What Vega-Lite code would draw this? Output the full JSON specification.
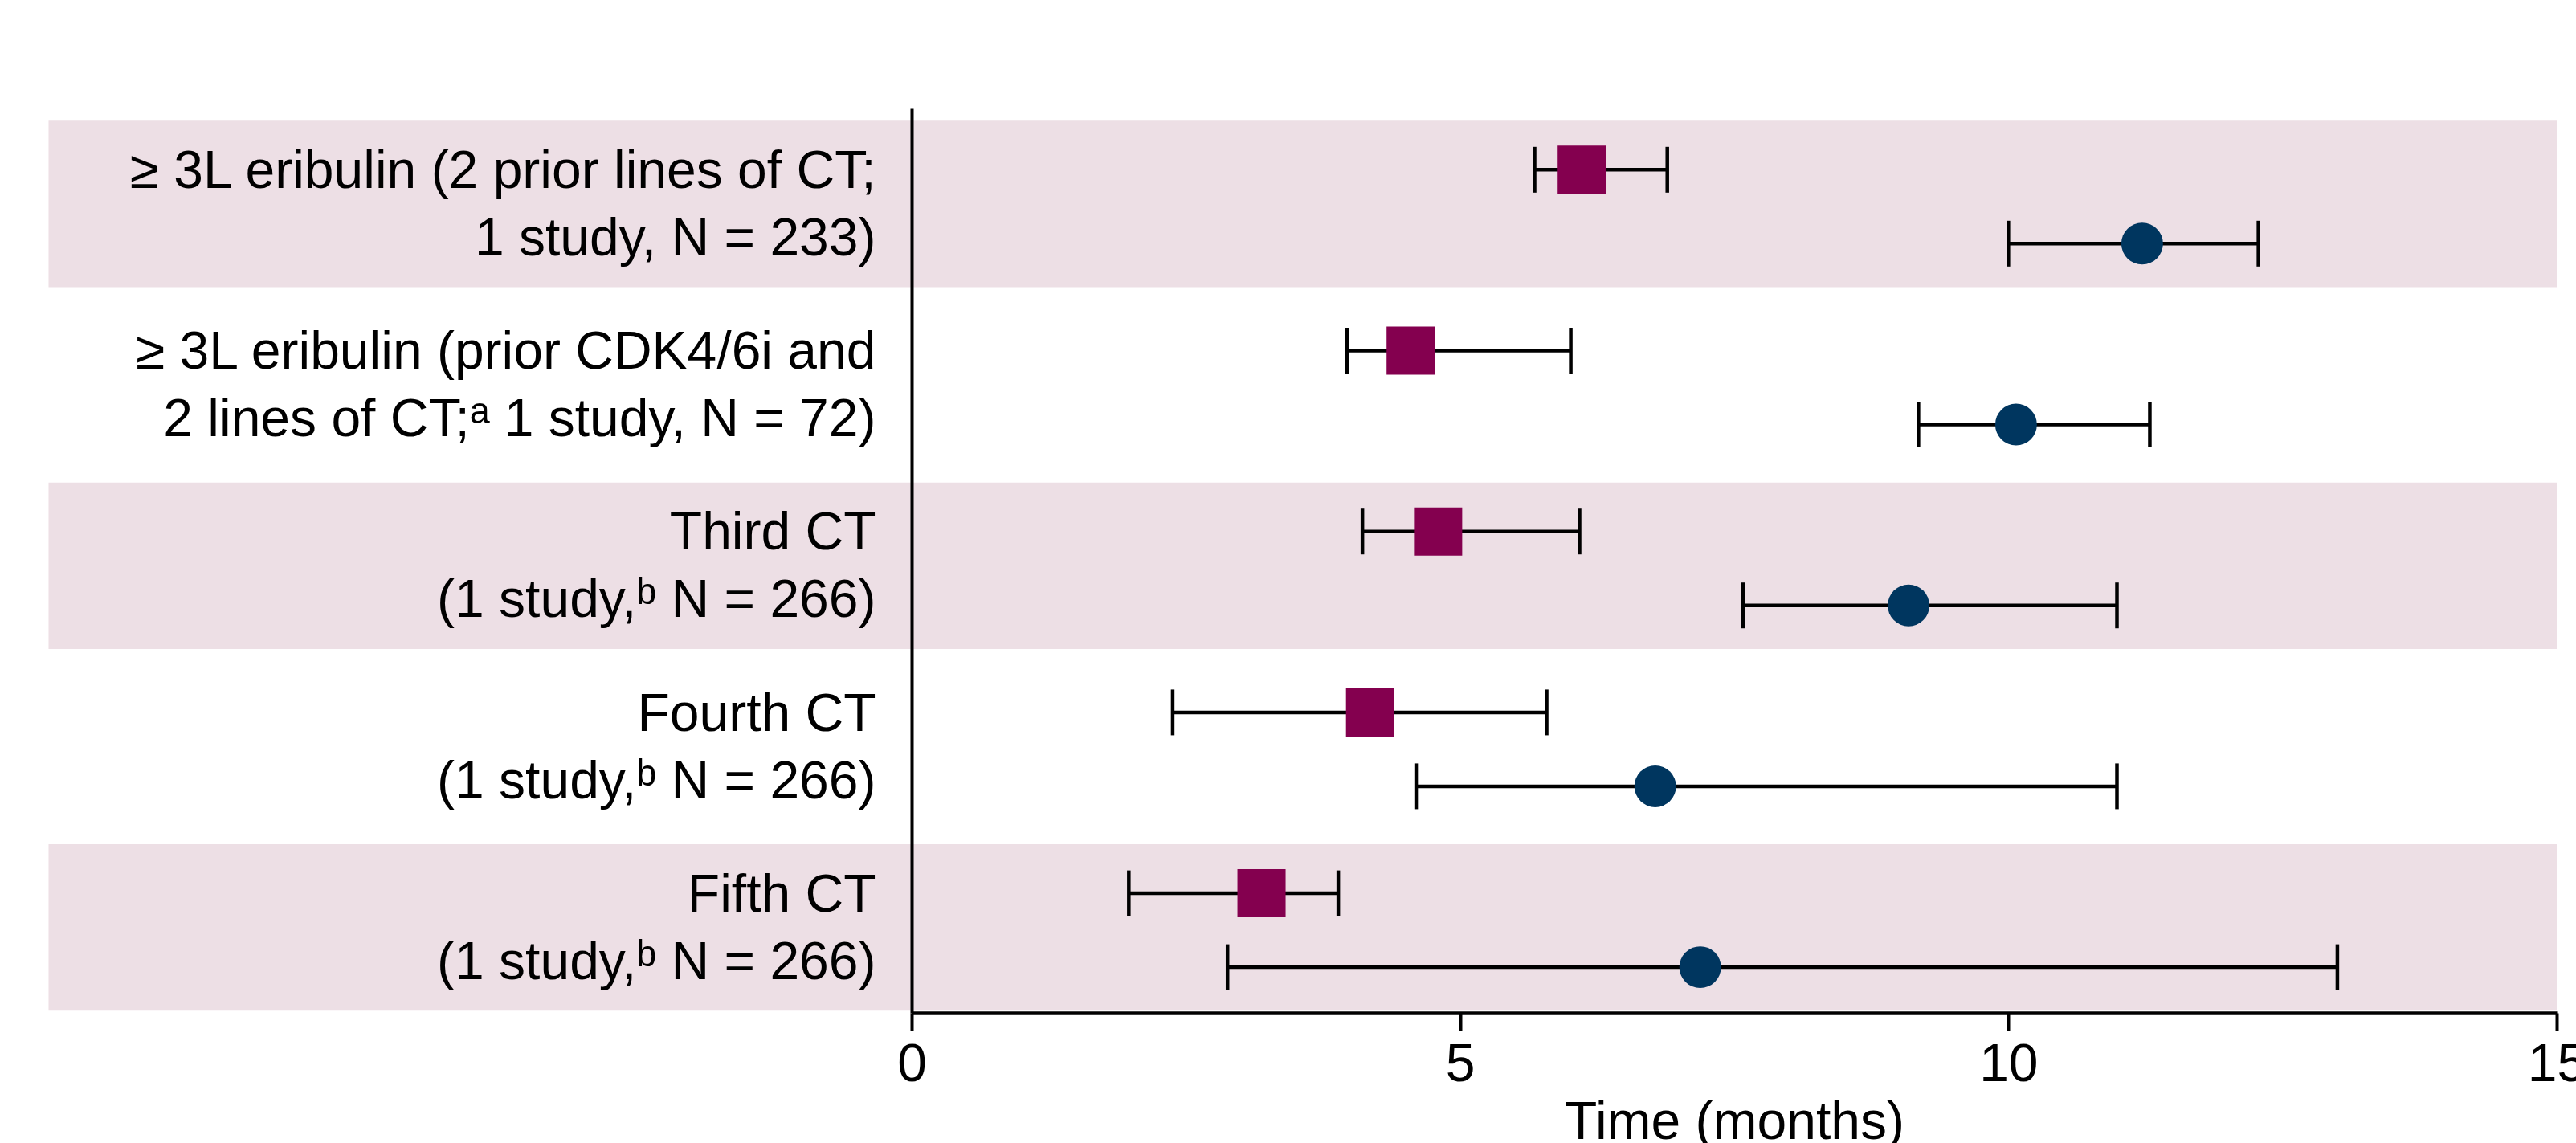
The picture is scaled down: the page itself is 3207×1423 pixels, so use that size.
{
  "$schema": "https://vega.github.io/schema/vega-lite/v6.json",
  "width": 2048,
  "height": 1126,
  "autosize": {"type": "none"},
  "padding": {"left": 1135, "top": 135, "right": 24, "bottom": 162},
  "background": "white",
  "config": {"view": {"stroke": null}, "font": "Liberation Sans"},
  "data": {
    "values": [
      {"row": 1, "label": "\u2265 3L eribulin (2 prior lines of CT;|1 study, N = 233)", "measure": "PFS", "median": 6.11, "lo": 5.68, "hi": 6.89},
      {"row": 1, "label": "\u2265 3L eribulin (2 prior lines of CT;|1 study, N = 233)", "measure": "OS", "median": 11.22, "lo": 10.0, "hi": 12.28},
      {"row": 2, "label": "\u2265 3L eribulin (prior CDK4/6i and|2 lines of CT;\u1d43 1 study, N = 72)", "measure": "PFS", "median": 4.55, "lo": 3.97, "hi": 6.01},
      {"row": 2, "label": "\u2265 3L eribulin (prior CDK4/6i and|2 lines of CT;\u1d43 1 study, N = 72)", "measure": "OS", "median": 10.07, "lo": 9.18, "hi": 11.29},
      {"row": 3, "label": "Third CT|(1 study,\u1d47 N = 266)", "measure": "PFS", "median": 4.8, "lo": 4.11, "hi": 6.09},
      {"row": 3, "label": "Third CT|(1 study,\u1d47 N = 266)", "measure": "OS", "median": 9.09, "lo": 7.58, "hi": 10.99},
      {"row": 4, "label": "Fourth CT|(1 study,\u1d47 N = 266)", "measure": "PFS", "median": 4.18, "lo": 2.38, "hi": 5.79},
      {"row": 4, "label": "Fourth CT|(1 study,\u1d47 N = 266)", "measure": "OS", "median": 6.78, "lo": 4.6, "hi": 10.99},
      {"row": 5, "label": "Fifth CT|(1 study,\u1d47 N = 266)", "measure": "PFS", "median": 3.19, "lo": 1.98, "hi": 3.89},
      {"row": 5, "label": "Fifth CT|(1 study,\u1d47 N = 266)", "measure": "OS", "median": 7.19, "lo": 2.88, "hi": 13.0}
    ]
  },
  "encoding": {
    "y": {
      "field": "label",
      "type": "nominal",
      "scale": {
        "domain": [
          "\u2265 3L eribulin (2 prior lines of CT;|1 study, N = 233)",
          "\u2265 3L eribulin (prior CDK4/6i and|2 lines of CT;\u1d43 1 study, N = 72)",
          "Third CT|(1 study,\u1d47 N = 266)",
          "Fourth CT|(1 study,\u1d47 N = 266)",
          "Fifth CT|(1 study,\u1d47 N = 266)"
        ],
        "paddingInner": 0.08,
        "paddingOuter": 0.04,
        "align": 0.85
      },
      "axis": {
        "title": null,
        "ticks": false,
        "domain": true,
        "domainColor": "#000000",
        "domainWidth": 4,
        "labelFontSize": 66,
        "labelColor": "#000000",
        "labelPadding": 45,
        "labelLimit": 3000,
        "labelLineHeight": 84,
        "labelOffset": -40,
        "labelAlign": "right",
        "labelBaseline": "middle",
        "labelExpr": "split(datum.label, '|')",
        "zindex": 1
      }
    }
  },
  "layer": [
    {
      "transform": [{"filter": "datum.measure == 'PFS' && datum.row % 2 == 1"}],
      "mark": {"type": "rect", "color": "#EDDFE5", "clip": false},
      "encoding": {
        "x": {
          "datum": -7.87,
          "type": "quantitative",
          "title": "Time (months)",
          "scale": {"domain": [0, 15], "nice": false, "zero": false},
          "axis": {
            "values": [0, 5, 10, 15],
            "format": "d",
            "grid": false,
            "domainColor": "#000000",
            "domainWidth": 4.5,
            "tickColor": "#000000",
            "tickWidth": 4,
            "tickSize": 22,
            "labelFontSize": 66,
            "labelColor": "#000000",
            "labelPadding": 10,
            "labelFlush": false,
            "labelOverlap": false,
            "labelBound": false,
            "titleFontSize": 66,
            "titleFontWeight": "normal",
            "titleColor": "#000000",
            "titlePadding": 7,
            "zindex": 1
          }
        },
        "x2": {"datum": 15}
      }
    },
    {
      "mark": {"type": "rule", "color": "#000000", "strokeWidth": 4.5},
      "encoding": {
        "x": {"field": "lo", "type": "quantitative", "title": "Time (months)"},
        "x2": {"field": "hi"},
        "yOffset": {
          "field": "measure",
          "type": "nominal",
          "scale": {"domain": ["PFS", "OS"], "paddingInner": 0, "paddingOuter": 0.126, "align": 0.647}
        }
      }
    },
    {
      "mark": {"type": "tick", "orient": "vertical", "color": "#000000", "thickness": 4.5, "size": 57, "opacity": 1},
      "encoding": {
        "x": {"field": "lo", "type": "quantitative", "title": "Time (months)"},
        "yOffset": {"field": "measure", "type": "nominal"}
      }
    },
    {
      "mark": {"type": "tick", "orient": "vertical", "color": "#000000", "thickness": 4.5, "size": 57, "opacity": 1},
      "encoding": {
        "x": {"field": "hi", "type": "quantitative", "title": "Time (months)"},
        "yOffset": {"field": "measure", "type": "nominal"}
      }
    },
    {
      "mark": {"type": "point", "filled": true, "opacity": 1, "strokeWidth": 0},
      "encoding": {
        "x": {"field": "median", "type": "quantitative", "title": "Time (months)"},
        "yOffset": {"field": "measure", "type": "nominal"},
        "shape": {"field": "measure", "type": "nominal", "scale": {"domain": ["PFS", "OS"], "range": ["square", "circle"]}, "legend": null},
        "color": {"field": "measure", "type": "nominal", "scale": {"domain": ["PFS", "OS"], "range": ["#84004F", "#00365F"]}, "legend": null},
        "size": {"field": "measure", "type": "nominal", "scale": {"domain": ["PFS", "OS"], "range": [3600, 2700]}, "legend": null}
      }
    }
  ]
}
